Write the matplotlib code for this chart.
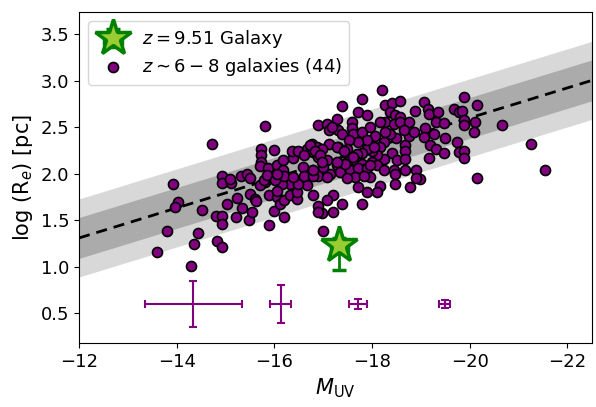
import numpy as np
import matplotlib.pyplot as plt

# z~6-8 galaxy sample (M_UV, log Re [pc])
muv = [
    -13.59, -13.80, -13.93, -14.03, -13.97, -14.51, -14.43, -14.36, -14.29, -14.82,
    -14.92, -14.81, -14.92, -14.92, -15.03, -15.24, -15.34, -15.22, -15.49, -15.55,
    -15.50, -15.61, -15.63, -14.92, -14.92, -15.11, -15.31, -15.44, -15.50, -15.90,
    -16.00, -16.20, -15.90, -16.05, -16.12, -16.20, -15.81, -15.71,
    -14.72, -15.81, -16.00, -15.73, -15.73, -15.73, -15.71, -15.09, -15.87, -16.05,
    -16.18, -16.18, -16.39, -16.39, -16.53, -16.59, -16.67, -16.77, -16.80, -16.87,
    -16.89, -16.90, -16.90,
    -18.20, -17.79, -17.38, -17.71, -17.90, -18.27, -18.41, -18.58, -18.37, -18.48,
    -18.58, -18.27, -18.44, -18.58, -18.75, -18.87, -19.07, -19.14, -19.16, -19.36,
    -19.30, -19.47, -19.67, -19.77, -19.84, -19.88, -19.88, -20.15, -20.11, -20.08,
    -19.09, -19.06, -19.26, -19.50, -19.19, -19.30, -19.47, -19.74, -19.77, -19.88,
    -19.88, -19.16, -18.68, -18.68, -18.75, -18.65, -18.85, -18.50, -18.37, -18.24,
    -18.17, -18.41, -18.51, -18.24, -18.10, -18.00, -17.90, -17.79, -17.69, -17.66,
    -17.79, -18.00, -18.10, -18.24, -18.44, -18.48, -18.68, -18.89,
    -17.08, -17.28, -17.11, -17.31, -17.38, -17.59, -17.59, -17.62, -17.79, -17.96,
    -18.07, -17.90, -17.72, -17.52, -17.31, -17.11, -16.97, -17.08, -17.28, -17.48,
    -17.48, -17.55, -17.35, -17.14, -17.00, -17.72, -17.90, -17.96, -17.66, -20.15,
    -19.88, -20.66, -21.26, -21.55,
    -18.99, -18.78, -18.48, -18.17, -18.10, -17.90, -17.71, -17.79, -17.38, -17.20,
    -17.21, -17.08, -16.97, -16.99, -17.48, -17.08, -17.83,
    -16.90, -16.90,
    -16.32, -16.46, -16.46, -16.67, -16.80, -16.32, -16.49, -16.15, -16.05, -15.78,
    -15.84, -16.02, -16.19, -16.39, -16.60, -16.80, -16.05,
    -17.18, -18.17, -18.27, -16.36, -16.49, -16.60, -16.73, -16.84, -16.94, -17.28,
    -17.42, -17.45, -17.62, -16.80, -16.97, -17.28, -18.03, -18.68, -18.89, -17.96,
]
log_re = [
    1.16, 1.38, 1.89, 1.70, 1.64, 1.61, 1.36, 1.24, 1.01, 1.28,
    1.21, 1.55, 1.55, 1.46, 1.67, 1.74, 1.63, 1.54, 1.50, 1.59,
    1.78, 1.73, 1.71, 1.98, 1.90, 1.90, 1.98, 2.00, 1.95, 1.45,
    1.60, 1.53, 1.77, 1.75, 1.68, 1.72, 1.91, 1.88,
    2.32, 2.51, 2.26, 2.27, 2.20, 2.13, 2.08, 1.94, 2.06, 2.09,
    2.15, 2.04, 2.23, 2.17, 2.23, 2.07, 2.27, 2.32, 2.23, 2.29,
    2.53, 2.18, 1.98,
    2.90, 2.80, 2.73, 2.66, 2.63, 2.74, 2.76, 2.78, 2.66, 2.63,
    2.61, 2.56, 2.54, 2.56, 2.56, 2.67, 2.77, 2.70, 2.64, 2.66,
    2.56, 2.55, 2.70, 2.66, 2.68, 2.83, 2.58, 2.74, 2.56, 2.45,
    2.49, 2.40, 2.43, 2.38, 2.31, 2.27, 2.22, 2.34, 2.23, 2.25,
    2.17, 2.17, 2.31, 2.25, 2.41, 2.47, 2.45, 2.38, 2.43, 2.34,
    2.29, 2.22, 2.15, 2.16, 2.20, 2.25, 2.27, 2.22, 2.21, 2.15,
    2.11, 2.13, 2.09, 2.04, 2.04, 2.00, 2.04, 2.04,
    2.54, 2.59, 2.47, 2.47, 2.43, 2.56, 2.49, 2.43, 2.45, 2.50,
    2.41, 2.36, 2.34, 2.36, 2.29, 2.32, 2.27, 2.15, 2.09, 2.27,
    2.13, 2.04, 2.02, 2.00, 2.07, 2.06, 2.06, 1.97, 1.97, 1.96,
    2.52, 2.52, 2.32, 2.04,
    1.94, 1.86, 1.89, 1.87, 1.80, 1.80, 1.86, 1.67, 1.67, 1.59,
    1.77, 1.72, 1.58, 1.39, 1.95, 1.97, 1.98,
    1.65, 1.59,
    1.77, 1.73, 1.80, 1.88, 1.77, 1.89, 1.89, 1.89, 1.82, 1.93,
    1.99, 1.93, 1.98, 1.97, 1.98, 1.98, 2.00,
    2.50, 2.56, 2.45, 2.25, 2.25, 2.20, 2.31, 2.25, 2.20, 2.29,
    2.25, 2.11, 2.18, 2.04, 2.13, 2.13, 2.29, 2.16, 1.95, 2.09,
]

# z = 9.51 galaxy (asymmetric radius error)
star_muv, star_re = -17.33, 1.23
star_xerr = 0.18
star_yerr_lo, star_yerr_hi = 0.26, 0.08

# typical errors in magnitude bins
err_x = [-14.34, -16.13, -17.71, -19.49]
err_y = [0.60, 0.60, 0.60, 0.60]
err_xe = [0.99, 0.21, 0.19, 0.11]
err_ye = [0.25, 0.20, 0.05, 0.04]

# size-luminosity relation and scatter
slope, intercept = -0.1614, -0.627
sig1, sig2 = 0.22, 0.42

fig = plt.figure(figsize=(5.96, 4.07), dpi=100)
ax = fig.add_axes([0.1326, 0.1572, 0.8604, 0.8133])

xx = np.linspace(-12, -22.5, 50)
yy = slope * xx + intercept
ax.fill_between(xx, yy - sig2, yy + sig2, color='gray', alpha=0.3, lw=0)
ax.fill_between(xx, yy - sig1, yy + sig1, color='gray', alpha=0.5, lw=0)
ax.plot(xx, yy, 'k--', lw=2, dashes=(4, 2.5))

ax.scatter(muv, log_re, s=52, c='purple', edgecolors='black', linewidths=1.2,
           zorder=3, label=r'$z\sim6-8$ galaxies (44)')

ax.errorbar(err_x, err_y, xerr=err_xe, yerr=err_ye, fmt='none', ecolor='purple',
            elinewidth=1.5, capsize=3, capthick=1.5)

ax.errorbar(star_muv, star_re, xerr=star_xerr,
            yerr=[[star_yerr_lo], [star_yerr_hi]], fmt='*',
            ms=27, mfc='yellowgreen', mec='green', mew=2.5, ecolor='green',
            elinewidth=2, capsize=5, capthick=2, zorder=5,
            label=r'$z=9.51$ Galaxy')

ax.set_xlim(-12, -22.5)
ax.set_ylim(0.18, 3.74)
ax.set_yticks([0.5, 1.0, 1.5, 2.0, 2.5, 3.0, 3.5])
ax.tick_params(labelsize=13)
ax.set_xlabel(r'$M_{\rm UV}$', fontsize=15)
ax.set_ylabel(r'log (R$_e$) [pc]', fontsize=15)

h, l = ax.get_legend_handles_labels()
ax.legend(h[::-1], l[::-1], loc='upper left', fontsize=13, handletextpad=0.6,
          borderpad=0.4, labelspacing=0.3)

fig.savefig('out.png', dpi=100)
